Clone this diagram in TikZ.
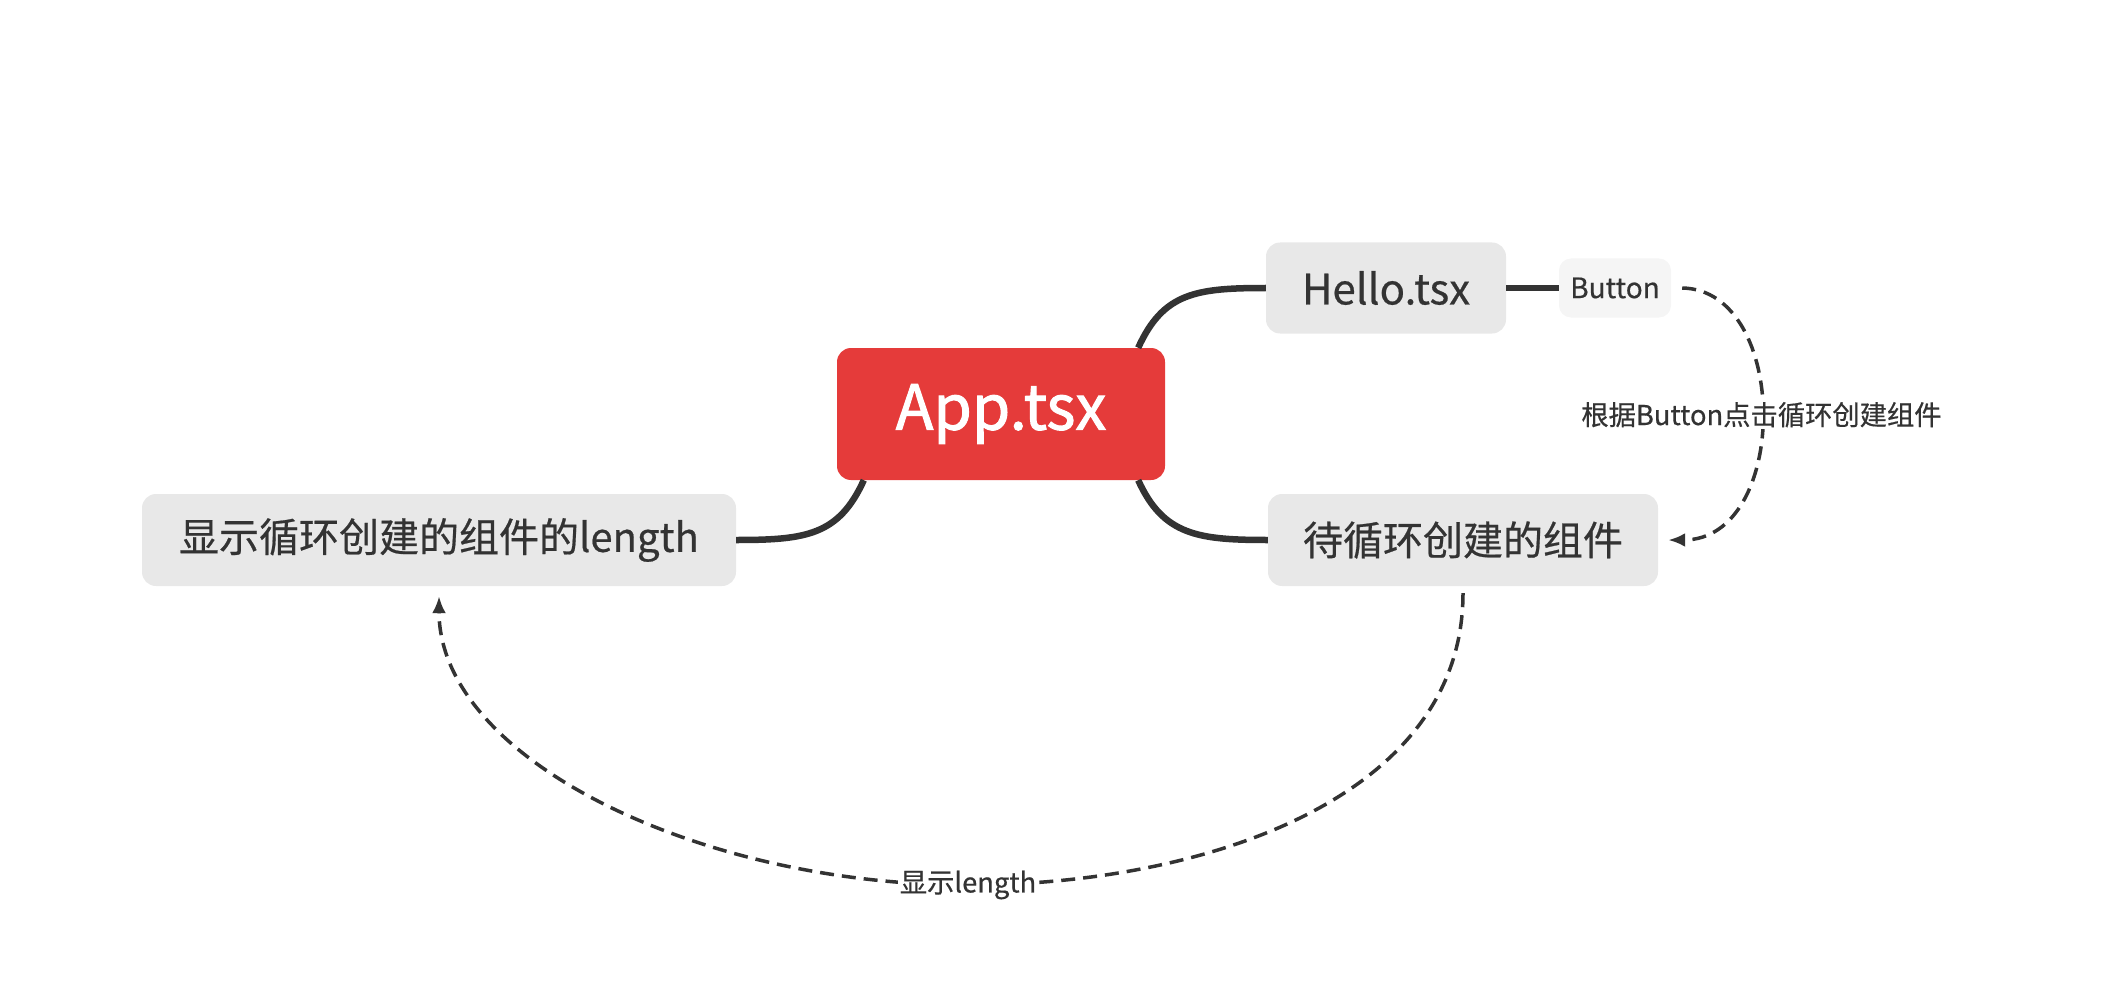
\documentclass[tikz,border=0pt]{standalone}
\usepackage{fontspec}
\setmainfont{Noto Sans CJK SC}[FakeBold=0.5]
\newfontfamily\appfont{Noto Sans CJK SC}[FakeBold=1.6]
\usepackage{xcolor}
\usetikzlibrary{arrows.meta}
\definecolor{ink}{HTML}{333333}
\definecolor{appred}{HTML}{E53B3A}
\definecolor{boxgray}{HTML}{E8E8E8}
\definecolor{btngray}{HTML}{F5F5F5}

\begin{document}
\begin{tikzpicture}[
  x=1pt, y=-1pt,
  central/.style={fill=appred, rounded corners=14pt, minimum width=328pt, minimum height=132pt, text=white, font=\appfont\fontsize{62}{74}\selectfont},
  topic/.style={fill=boxgray, rounded corners=14pt, minimum height=92pt, text=ink, font=\fontsize{40}{48}\selectfont},
  leaf/.style={fill=btngray, rounded corners=12pt, minimum width=112pt, minimum height=59pt, text=ink, font=\fontsize{28}{33}\selectfont},
  branch/.style={draw=ink, line width=6.5pt},
  relation/.style={draw=ink, line width=3.5pt, dash pattern=on 14pt off 8pt, -{Latex[length=17pt,width=14pt]}},
  note/.style={fill=white, text=ink, inner sep=2pt, font=\fontsize{27.3}{32}\selectfont}
]
  \useasboundingbox (0,0) rectangle (2112,984);

  % Topics
  \node[central] (app) at (1001,414) {App.tsx};
  \node[topic, minimum width=240pt, minimum height=91pt, font=\fontsize{42}{50}\selectfont] (hello) at (1386,288) {Hello.tsx};
  \node[leaf] (button) at (1615,288) {Button};
  \node[topic, minimum width=390pt] (todo) at (1463,540) {待循环创建的组件};
  \node[topic, minimum width=594pt] (count) at (439,540) {显示循环创建的组件的length};

  % Branches
  \draw[branch] ([xshift=-27pt]app.north east) .. controls +(25,-55) and +(-70,0) .. (hello.west);
  \draw[branch] ([xshift=-27pt]app.south east) .. controls +(25,55) and +(-70,0) .. (todo.west);
  \draw[branch] ([xshift=27pt]app.south west) .. controls +(-25,55) and +(70,0) .. (count.east);
  \draw[branch] (hello.east) -- (button.west);

  % Relations
  \draw[relation] ([xshift=11pt]button.east) .. controls +(108,2) and +(122,0) .. ([xshift=10pt]todo.east)
    node[note, pos=0.5] (clicklabel) {根据Button点击循环创建组件};
  \draw[relation] ([yshift=-7pt]todo.south) .. controls +(0,207) and +(232,0) .. (968,885)
    node[note] (lenlabel) {显示length}
    .. controls +(-268,0) and +(0,163) .. ([yshift=-10pt]count.south);
\end{tikzpicture}
\end{document}
